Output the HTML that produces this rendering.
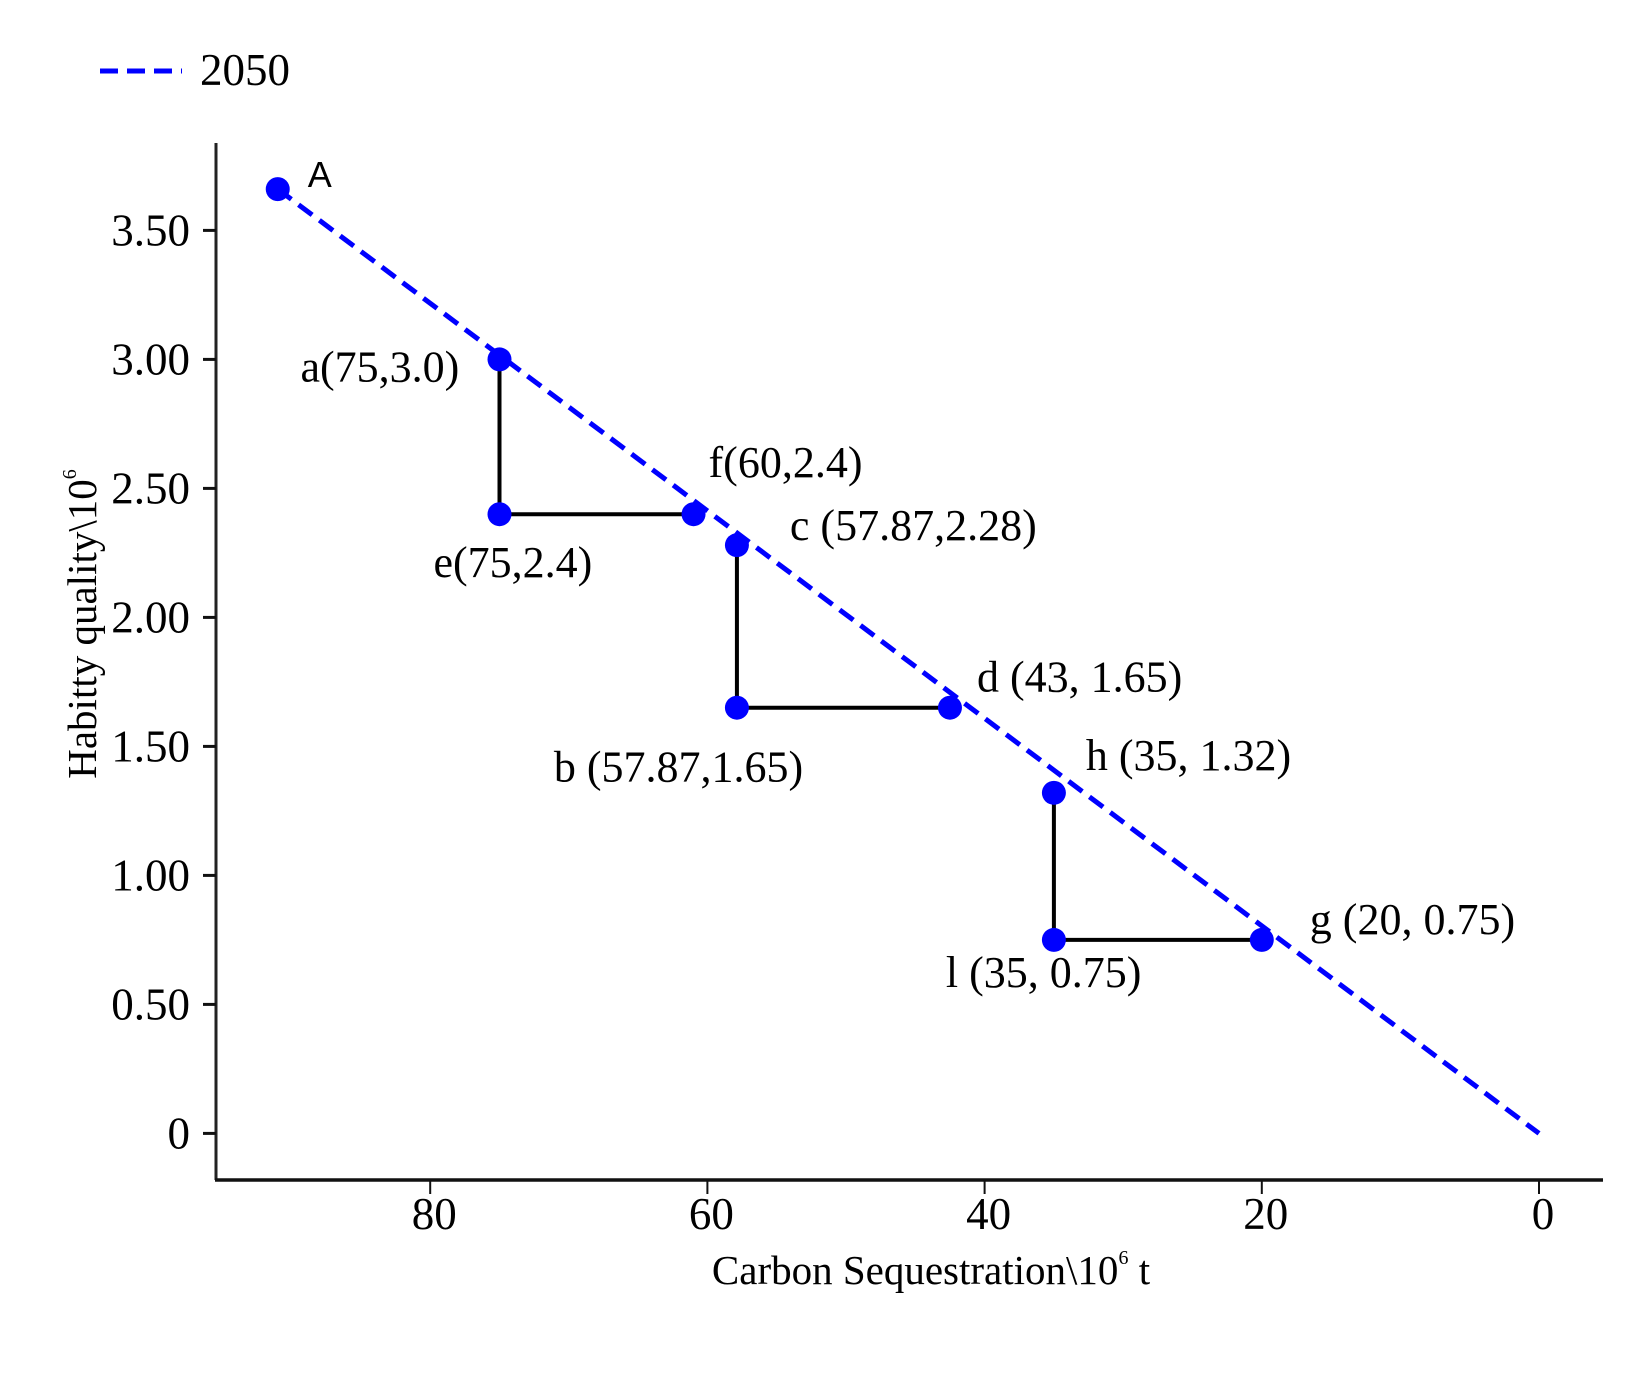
<!DOCTYPE html>
<html><head><meta charset="utf-8"><style>
html,body{margin:0;padding:0;background:#fff;}
svg{display:block;font-family:"Liberation Serif",serif;}
</style></head><body>
<svg id="chart" width="1651" height="1374" viewBox="0 0 1651 1374">
<g>
<line x1="100" y1="71" x2="182" y2="71" stroke="#0000ff" stroke-width="5" stroke-dasharray="18,9"/>
<text x="200" y="85" font-size="45">2050</text>
</g>
<g id="axes"></g>
<g id="marks"></g>
<text x="931" y="1284" font-size="41" text-anchor="middle">Carbon Sequestration\10<tspan dy="-20" font-size="20">6</tspan><tspan dy="20"> t</tspan></text>
<text transform="translate(96,624) rotate(-90)" font-size="41" text-anchor="middle">Habitty quality\10<tspan dy="-20" font-size="20">6</tspan></text>
</svg>
<script>
const xTicks=[80,60,40,20,0];
const yTicks=[0,0.5,1.0,1.5,2.0,2.5,3.0,3.5];
const yTickLabels=["0","0.50","1.00","1.50","2.00","2.50","3.00","3.50"];
const pointNames=["A","a","e","f","c","b","d","h","l","g"];
const pointX=[91,75,75,61,57.87,57.87,42.5,35,35,20];
const pointY=[3.66,3.0,2.4,2.4,2.28,1.65,1.65,1.32,0.75,0.75];
const lineStart=[91,3.66];
const lineEnd=[0,0];
const triangles=[["a","e","f"],["c","b","d"],["h","l","g"]];
const labelTexts=["A","a(75,3.0)","e(75,2.4)","f(60,2.4)","c (57.87,2.28)","b (57.87,1.65)","d (43, 1.65)","h (35, 1.32)","l (35, 0.75)","g (20, 0.75)"];
const labelOffsets=[[30,-2],[-199,22],[-66,63],[15,-37],[53,-5],[-183,74],[27,-16],[32,-23],[-108,47],[48,-6]];

function sx(v){return 1539-v*13.86;}
function sy(v){return 1133.4-v*258;}
const NS="http://www.w3.org/2000/svg";
function mk(t,a,parent){const e=document.createElementNS(NS,t);for(const k in a)e.setAttribute(k,a[k]);parent.appendChild(e);return e;}
const axes=document.getElementById('axes');
const marks=document.getElementById('marks');
let el;
el=mk('line',{x1:216,y1:143,x2:216,y2:1180,stroke:'#222','stroke-width':3},axes);


el=mk('line',{x1:215,y1:1180,x2:1603,y2:1180,stroke:'#111','stroke-width':3.5},axes);


xTicks.forEach((v)=>{
 const t=mk('line',{x1:sx(v),y1:1180,x2:sx(v),y2:1194,stroke:'#111','stroke-width':2},axes);
 
 
 const l=mk('text',{x:sx(v)+4,y:1229,'font-size':45,'text-anchor':'middle'},axes);
 l.textContent=String(v);
 
 
});
yTicks.forEach((v,i)=>{
 const t=mk('line',{x1:203,y1:sy(v),x2:216,y2:sy(v),stroke:'#111','stroke-width':3},axes);
 
 
 const l=mk('text',{x:190,y:sy(v)+15,'font-size':45,'text-anchor':'end'},axes);
 l.textContent=yTickLabels[i];
 
 
});
el=mk('line',{x1:sx(lineStart[0]),y1:sy(lineStart[1]),x2:sx(lineEnd[0]),y2:sy(lineEnd[1]),stroke:'#0000ff','stroke-width':5,'stroke-dasharray':'17,9'},marks);


function idx(n){return pointNames.indexOf(n);}
triangles.forEach(tr=>{
 const p=tr.map(idx);
 const pl=mk('polyline',{points:`${sx(pointX[p[0]])},${sy(pointY[p[0]])} ${sx(pointX[p[1]])},${sy(pointY[p[1]])} ${sx(pointX[p[2]])},${sy(pointY[p[2]])}`,fill:'none',stroke:'#000','stroke-width':4},marks);
 
 
});
pointNames.forEach((n,i)=>{
 const c=mk('circle',{cx:sx(pointX[i]),cy:sy(pointY[i]),r:12,fill:'#0000ff'},marks);
 
 
 const t=mk('text',{x:sx(pointX[i])+labelOffsets[i][0],y:sy(pointY[i])+labelOffsets[i][1],'font-size':i===0?36:44},marks);
 if(i===0)t.setAttribute('font-family','Liberation Sans, sans-serif');
 t.textContent=labelTexts[i];
 
 
});
</script>
</body></html>
